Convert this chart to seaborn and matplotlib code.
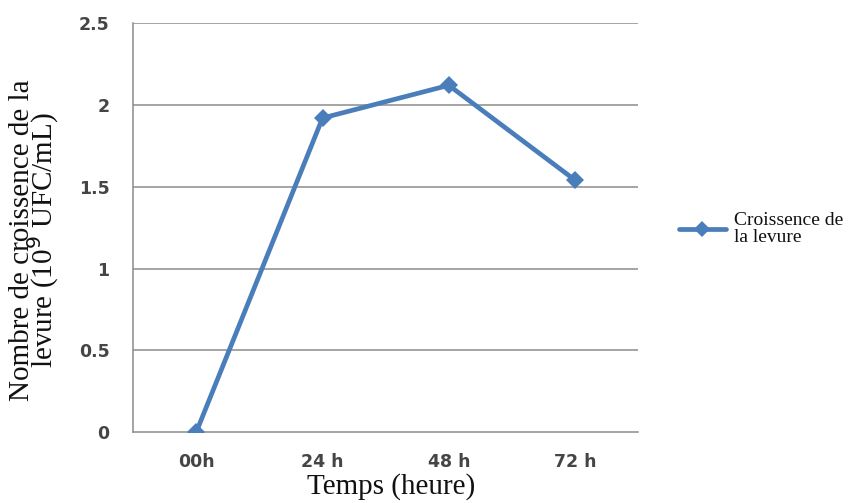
import matplotlib
matplotlib.use("Agg")
import matplotlib.pyplot as plt
import seaborn as sns
import pandas as pd
from matplotlib.lines import Line2D

categories = ["00h", "24 h", "48 h", "72 h"]
croissance = [0.0, 1.92, 2.12, 1.54]
y_ticks = [0, 0.5, 1, 1.5, 2, 2.5]
y_tick_labels = ["0", "0.5", "1", "1.5", "2", "2.5"]

series_name = "Croissence de\nla levure"
line_color = "#4A7EBB"
grid_color = "#8C8C8C"

df = pd.DataFrame({"pos": range(len(categories)), "val": croissance})

sns.set_theme(style="white")
fig = plt.figure(figsize=(8.59, 5.03), dpi=100)
ax = fig.add_axes([0.155, 0.141, 0.588, 0.813])

sns.lineplot(data=df, x="pos", y="val", ax=ax, color=line_color,
             linewidth=3.4, marker="D", markersize=9, markeredgewidth=0,
             markerfacecolor=line_color, zorder=3)

ax.set_xlim(-0.5, len(categories) - 0.5)
ax.set_ylim(0, 2.5)
ax.set_yticks(y_ticks)
ax.set_yticklabels(y_tick_labels)
ax.set_xticks(range(len(categories)))
ax.set_xticklabels(categories)

# horizontal gridlines
for y in y_ticks[1:]:
    ax.axhline(y, color=grid_color, linewidth=1.1, zorder=1)

# category boundary tick marks on x axis
ax.set_xticks([i - 0.5 for i in range(len(categories) + 1)], minor=True)
ax.tick_params(axis="x", which="major", length=0, pad=15)
ax.tick_params(axis="x", which="minor", length=5, width=1.1, color=grid_color, direction="out")
ax.tick_params(axis="y", which="major", length=7, width=1.1, color=grid_color, direction="out", pad=10)

for lab in ax.get_xticklabels() + ax.get_yticklabels():
    lab.set_fontfamily("DejaVu Sans")
    lab.set_fontweight("bold")
    lab.set_fontsize(12.5)
    lab.set_color("#454545")

for side in ["top", "right"]:
    ax.spines[side].set_visible(False)
for side in ["left", "bottom"]:
    ax.spines[side].set_color(grid_color)
    ax.spines[side].set_linewidth(1.1)

ax.set_xlabel("Temps (heure)", family="Liberation Serif", fontsize=21, color="#111111")
ax.xaxis.set_label_coords(0.51, -0.1)
ax.set_ylabel("Nombre de croissence de la\nlevure (10$^{9}$ UFC/mL)", family="Liberation Serif",
              fontsize=21, color="#111111", linespacing=0.66)
ax.yaxis.set_label_coords(-0.143, 0.47)

handle = Line2D([0], [0], color=line_color, linewidth=3.4, marker="D", markersize=8,
                markeredgewidth=0)
leg = fig.legend([handle], [series_name], loc="center left", bbox_to_anchor=(0.77, 0.545),
                 frameon=False, handlelength=2.4, handletextpad=0.45,
                 prop={"family": "Liberation Serif", "size": 14})
for t in leg.get_texts():
    t.set_color("#111111")
    t.set_linespacing(1.0)

fig.savefig("out.png", dpi=100)
